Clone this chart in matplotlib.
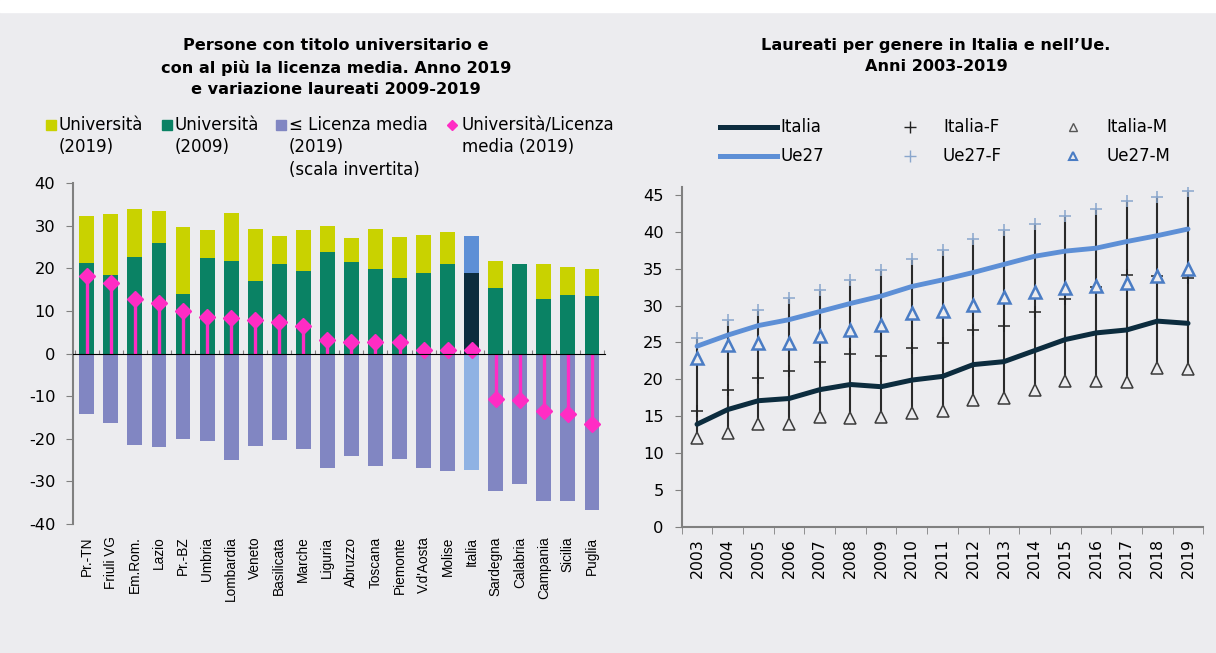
import numpy as np
import matplotlib.pyplot as plt
from matplotlib.patches import Rectangle
from matplotlib.lines import Line2D

plt.rcParams['font.family'] = ['DejaVu Sans']
plt.rcParams['axes.unicode_minus'] = False

# ---- left chart data ----
regioni = ['Pr.-TN', 'Friuli VG', 'Em.Rom.', 'Lazio', 'Pr.-BZ', 'Umbria', 'Lombardia',
           'Veneto', 'Basilicata', 'Marche', 'Liguria', 'Abruzzo', 'Toscana', 'Piemonte',
           "V.d'Aosta", 'Molise', 'Italia', 'Sardegna', 'Calabria', 'Campania', 'Sicilia',
           'Puglia']
univ_2019 = [32.3, 32.8, 34.0, 33.4, 29.6, 29.0, 32.9, 29.2, 27.6, 28.9, 29.8, 27.0,
             29.1, 27.4, 27.8, 28.4, 27.5, 21.7, 20.8, 20.9, 20.2, 19.8]
univ_2009 = [21.2, 18.5, 22.6, 25.9, 14.0, 22.4, 21.6, 16.9, 21.0, 19.4, 23.7, 21.5,
             19.9, 17.8, 18.9, 21.1, 18.9, 15.3, 20.9, 12.7, 13.7, 13.5]
licenza_2019 = [14.2, 16.2, 21.5, 21.9, 20.0, 20.5, 25.0, 21.6, 20.3, 22.5, 26.9, 24.1,
                26.3, 24.8, 26.8, 27.6, 27.4, 32.2, 30.7, 34.6, 34.6, 36.6]
univ_licenza = [18.2, 16.6, 12.9, 11.8, 10.0, 8.6, 8.4, 7.8, 7.4, 6.4, 3.1, 2.7,
                2.7, 2.6, 0.9, 0.9, 0.8, -10.6, -10.8, -13.5, -14.1, -16.6]

# ---- right chart data ----
anni = ['2003', '2004', '2005', '2006', '2007', '2008', '2009', '2010', '2011',
        '2012', '2013', '2014', '2015', '2016', '2017', '2018', '2019']
italia = [13.9, 15.9, 17.1, 17.4, 18.6, 19.3, 19.0, 19.9, 20.4, 22.0, 22.4, 23.9,
          25.4, 26.3, 26.7, 27.9, 27.6]
ue27 = [24.5, 26.0, 27.3, 28.1, 29.2, 30.3, 31.3, 32.6, 33.5, 34.5, 35.6, 36.7,
        37.4, 37.8, 38.7, 39.5, 40.4]
italia_f = [15.7, 18.5, 20.2, 21.1, 22.3, 23.5, 23.1, 24.2, 24.9, 26.7, 27.3, 29.2,
            30.9, 32.5, 34.2, 34.0, 33.8]
italia_m = [12.1, 12.7, 14.0, 14.0, 14.9, 14.7, 14.9, 15.4, 15.7, 17.2, 17.4, 18.6,
            19.8, 19.8, 19.6, 21.5, 21.4]
ue27_f = [25.6, 28.1, 29.4, 31.0, 32.1, 33.5, 34.9, 36.3, 37.6, 39.0, 40.2, 41.1,
          42.2, 43.1, 44.2, 44.8, 45.6]
ue27_m = [22.9, 24.7, 24.9, 24.9, 25.9, 26.7, 27.4, 29.0, 29.3, 30.1, 31.2, 31.8,
          32.4, 32.7, 33.1, 34.0, 35.0]

# colours
BG = '#ececef'
YELLOW = '#c9d200'
GREEN = '#0a8264'
LAVENDER = '#8186c2'
PINK = '#ff2cc4'
NAVY = '#0c2c3e'
LIGHTBLUE = '#5d8fd6'
AXCOL = '#808080'

W, H = 1216, 653


def px(x, y):
    # pixel position -> figure fraction
    return x / W, 1 - y / H


fig = plt.figure(figsize=(W / 100, H / 100), dpi=100, facecolor=BG)
fig.patches.append(Rectangle((0, 1 - 12 / H), 1, 12 / H, transform=fig.transFigure,
                             color='white', zorder=-1))

'''LEFT CHART'''
ax1 = fig.add_axes([0.0603, 0.1975, 0.4372, 0.5223])
ax1.set_facecolor('none')
x = np.arange(len(regioni))
is_it = np.array([r == 'Italia' for r in regioni])
col19 = np.where(is_it, LIGHTBLUE, YELLOW)
col09 = np.where(is_it, NAVY, GREEN)
colli = np.where(is_it, '#8fb2e3', LAVENDER)
bw = 0.62
ax1.bar(x, univ_2019, bw, color=col19, zorder=2)
ax1.bar(x, univ_2009, bw, color=col09, zorder=3)
ax1.bar(x, -np.array(licenza_2019), bw, color=colli, zorder=2)
ax1.vlines(x, 0, univ_licenza, color=PINK, lw=2.4, zorder=4)
ax1.plot(x, univ_licenza, 'D', color=PINK, ms=8, zorder=5)

ax1.set_xlim(-0.56, len(regioni) - 0.46)
ax1.set_ylim(-40, 40)
ax1.set_yticks(range(-40, 41, 10))
ax1.tick_params(axis='y', direction='out', length=5, color=AXCOL, labelsize=11.7,
                pad=8)
ax1.set_xticks(x)
ax1.set_xticklabels(regioni, rotation=90, fontsize=9.8, family='Liberation Sans')
ax1.tick_params(axis='x', length=0, pad=9)
for s in ['top', 'right', 'bottom']:
    ax1.spines[s].set_visible(False)
ax1.spines['left'].set_color(AXCOL)
ax1.spines['left'].set_linewidth(1.5)
# zero line with category separators
sec = ax1.secondary_xaxis(0.5)
sec.set_xticks(np.append(x - 0.5, x[-1] + 0.5))
sec.set_xticklabels([])
sec.tick_params(length=3, color=AXCOL, direction='out')
sec.spines['bottom'].set_color(AXCOL)
sec.spines['bottom'].set_linewidth(1.5)
sec.set_zorder(6)

fig.text(*px(336, 38), 'Persone con titolo universitario e\ncon al più la licenza media. '
         'Anno 2019\ne variazione laureati 2009-2019', ha='center', va='top',
         fontsize=11.6, fontweight='bold', linespacing=1.5)

# legend of the left chart
leg_labels = ['Università\n(2019)', 'Università\n(2009)', '≤ Licenza media\n(2019)\n(scala invertita)',
              'Università/Licenza\nmedia (2019)']
leg_cols = [YELLOW, GREEN, LAVENDER, PINK]
leg_x = [46, 162, 276, 448]
for i, (lab, c, lx) in enumerate(zip(leg_labels, leg_cols, leg_x)):
    if i < 3:
        fig.patches.append(Rectangle(px(lx, 130), 10 / W, 10 / H,
                                     transform=fig.transFigure, color=c))
        tx = lx + 13
    else:
        fig.add_artist(Line2D([px(lx + 4, 125)[0]], [px(lx + 4, 125)[1]], marker='D',
                              color=c, ms=5, transform=fig.transFigure))
        tx = lx + 14
    fig.text(*px(tx, 116), lab, ha='left', va='top', fontsize=12, linespacing=1.32)

'''RIGHT CHART'''
ax2 = fig.add_axes([0.5606, 0.1934, 0.429, 0.5202])
ax2.set_facecolor('none')
xa = np.arange(len(anni))
allv = np.vstack([italia, ue27, italia_f, italia_m, ue27_f, ue27_m])
ax2.vlines(xa, allv.min(axis=0), allv.max(axis=0), color='#2a2a2a', lw=1.5, zorder=2)
ax2.plot(xa, ue27, color=LIGHTBLUE, lw=3.5, solid_capstyle='round', zorder=3)
ax2.plot(xa, italia, color=NAVY, lw=3.6, solid_capstyle='round', zorder=3)
ax2.plot(xa, italia_f, '+', color='#222222', ms=9, mew=1.1, zorder=4)
ax2.plot(xa, ue27_f, '+', color='#8aa6cc', ms=9, mew=1.1, zorder=4)
ax2.plot(xa, italia_m, '^', mfc=BG, mec='#3a3a3a', ms=9, mew=1.1, zorder=5)
ax2.plot(xa, ue27_m, '^', mfc=BG, mec='#4a7cc4', ms=9, mew=1.8, zorder=5)

ax2.set_xlim(-0.5, len(anni) - 0.5)
ax2.set_ylim(0, 46.1)
ax2.set_yticks(range(0, 46, 5))
ax2.set_xticks(xa)
ax2.set_xticklabels(anni, rotation=90, fontsize=11.3)
ax2.set_xticks(np.append(xa - 0.5, xa[-1] + 0.5), minor=True)
ax2.tick_params(axis='x', which='major', length=0, pad=8)
ax2.tick_params(axis='x', which='minor', length=5, color=AXCOL)
ax2.tick_params(axis='y', direction='out', length=5, color=AXCOL, labelsize=11.7, pad=8)
for s in ['top', 'right']:
    ax2.spines[s].set_visible(False)
for s in ['left', 'bottom']:
    ax2.spines[s].set_color(AXCOL)
    ax2.spines[s].set_linewidth(1.5)

fig.text(*px(936, 38), 'Laureati per genere in Italia e nell’Ue.\nAnni 2003-2019',
         ha='center', va='top', fontsize=11.6, fontweight='bold', linespacing=1.5)

# legend of the right chart
r_labels = [['Italia', 'Italia-F', 'Italia-M'], ['Ue27', 'Ue27-F', 'Ue27-M']]
r_y = [127, 156]
for row, yy in zip(r_labels, r_y):
    blue = row[0] == 'Ue27'
    x0, y0 = px(720, yy)
    x1, _ = px(777, yy)
    fig.add_artist(Line2D([x0, x1], [y0, y0], color=LIGHTBLUE if blue else NAVY, lw=3.6,
                          transform=fig.transFigure))
    fig.add_artist(Line2D([px(910, yy)[0]], [y0], marker='+', ms=8, mew=1,
                          color='#8aa6cc' if blue else '#222222', transform=fig.transFigure))
    fig.add_artist(Line2D([px(1073, yy)[0]], [y0], marker='^', ms=6, mfc=BG,
                          mec='#4a7cc4' if blue else '#555555', mew=1.5 if blue else 1,
                          transform=fig.transFigure))
    fig.text(*px(780, yy), row[0], ha='left', va='center', fontsize=12)
    fig.text(*px(943, yy), row[1], ha='left', va='center', fontsize=12)
    fig.text(*px(1106, yy), row[2], ha='left', va='center', fontsize=12)

fig.savefig('out.png', dpi=100, facecolor=BG)
